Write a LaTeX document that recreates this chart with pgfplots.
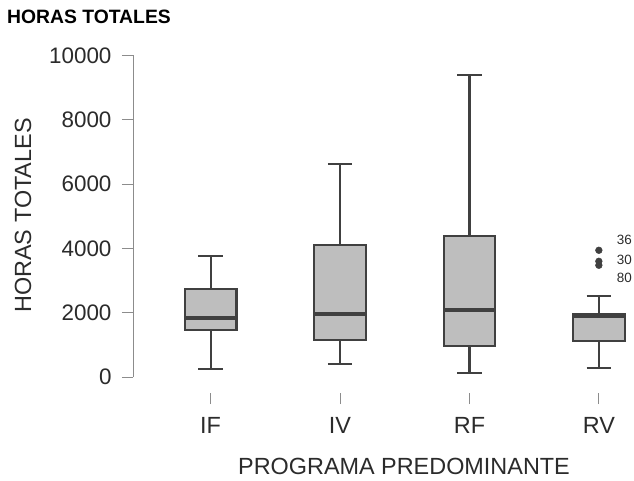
\documentclass[border=0pt]{standalone}
\usepackage{pgfplots}
\pgfplotsset{compat=1.18}
\usepackage{fontspec}
\setmainfont{Liberation Sans}
\definecolor{boxfill}{HTML}{BEBEBE}
\definecolor{boxedge}{HTML}{404040}
\definecolor{axgray}{HTML}{8C8C8C}
\definecolor{txt}{HTML}{2B2B2B}
\begin{document}
\begin{tikzpicture}
\begin{axis}[
  scale only axis, width=543.5bp, height=337.7bp,
  xmin=0.4, xmax=4.6, ymin=-497, ymax=10000,
  clip=false,
  axis lines=left,
  axis line style={draw=none},
  xtick={1,2,3,4}, xticklabels={IF,IV,RF,RV},
  ytick={0,2000,4000,6000,8000,10000},
  scaled y ticks=false,
  /pgf/number format/1000 sep={},
  /pgf/number format/assume math mode=true,
  tick align=outside,
  major tick length=11bp,
  tick style={draw=axgray, line width=0.9bp},
  yticklabel style={font=\fontsize{22.5}{24}\selectfont, text=txt, xshift=-7bp},
  xticklabel style={font=\fontsize{23.5}{25}\selectfont, text=txt, yshift=-10bp},
  bx/.style={draw=boxedge, fill=boxfill, line width=2.1bp, mark=none},
  wh/.style={draw=boxedge, line width=2.1bp, mark=none},
  md/.style={draw=boxedge, line width=4bp, mark=none},
]
\addplot[axgray, line width=0.9bp, mark=none] coordinates {(0.4,0) (0.4,10000)};
% IF
\addplot[wh] coordinates {(1,249) (1,1452)};
\addplot[wh] coordinates {(1,2748) (1,3762)};
\addplot[wh] coordinates {(0.905,249) (1.095,249)};
\addplot[wh] coordinates {(0.905,3762) (1.095,3762)};
\addplot[bx] coordinates {(0.8,1452) (1.2,1452) (1.2,2748) (0.8,2748)} -- cycle;
\addplot[md] coordinates {(0.8,1834) (1.2,1834)};
% IV
\addplot[wh] coordinates {(2,404) (2,1163)};
\addplot[wh] coordinates {(2,4095) (2,6635)};
\addplot[wh] coordinates {(1.905,404) (2.095,404)};
\addplot[wh] coordinates {(1.905,6635) (2.095,6635)};
\addplot[bx] coordinates {(1.8,1163) (2.2,1163) (2.2,4095) (1.8,4095)} -- cycle;
\addplot[md] coordinates {(1.8,1949) (2.2,1949)};
% RF
\addplot[wh] coordinates {(3,115) (3,964)};
\addplot[wh] coordinates {(3,4374) (3,9380)};
\addplot[wh] coordinates {(2.905,115) (3.095,115)};
\addplot[wh] coordinates {(2.905,9380) (3.095,9380)};
\addplot[bx] coordinates {(2.8,964) (3.2,964) (3.2,4374) (2.8,4374)} -- cycle;
\addplot[md] coordinates {(2.8,2095) (3.2,2095)};
% RV
\addplot[wh] coordinates {(4,280) (4,1110)};
\addplot[wh] coordinates {(4,1960) (4,2518)};
\addplot[wh] coordinates {(3.905,280) (4.095,280)};
\addplot[wh] coordinates {(3.905,2518) (4.095,2518)};
\addplot[bx] coordinates {(3.8,1110) (4.2,1110) (4.2,1960) (3.8,1960)} -- cycle;
\addplot[md] coordinates {(3.8,1900) (4.2,1900)};
% outliers
\addplot[only marks, mark=*, mark size=3.4bp, color=boxedge] coordinates {(4,3939) (4,3597) (4,3473)};
\node[anchor=west, text=txt, font=\fontsize{13.5}{15}\selectfont, inner sep=0pt] at (axis cs:4.137,4250) {36};
\node[anchor=west, text=txt, font=\fontsize{13.5}{15}\selectfont, inner sep=0pt] at (axis cs:4.137,3628) {30};
\node[anchor=west, text=txt, font=\fontsize{13.5}{15}\selectfont, inner sep=0pt] at (axis cs:4.137,3069) {80};
\end{axis}
\node[anchor=west, inner sep=0pt, font=\fontsize{19.4}{21}\selectfont\bfseries] at (-126bp,376bp) {HORAS TOTALES};
\node[rotate=90, inner sep=0pt, text=txt, font=\fontsize{23.5}{25}\selectfont] at (-110bp,177.5bp) {HORAS TOTALES};
\node[inner sep=0pt, text=txt, font=\fontsize{23.5}{25}\selectfont] at (271bp,-73bp) {PROGRAMA PREDOMINANTE};
\pgfresetboundingbox
\path[use as bounding box] (-133bp,-88bp) rectangle (501bp,393bp);
\end{tikzpicture}
\end{document}
